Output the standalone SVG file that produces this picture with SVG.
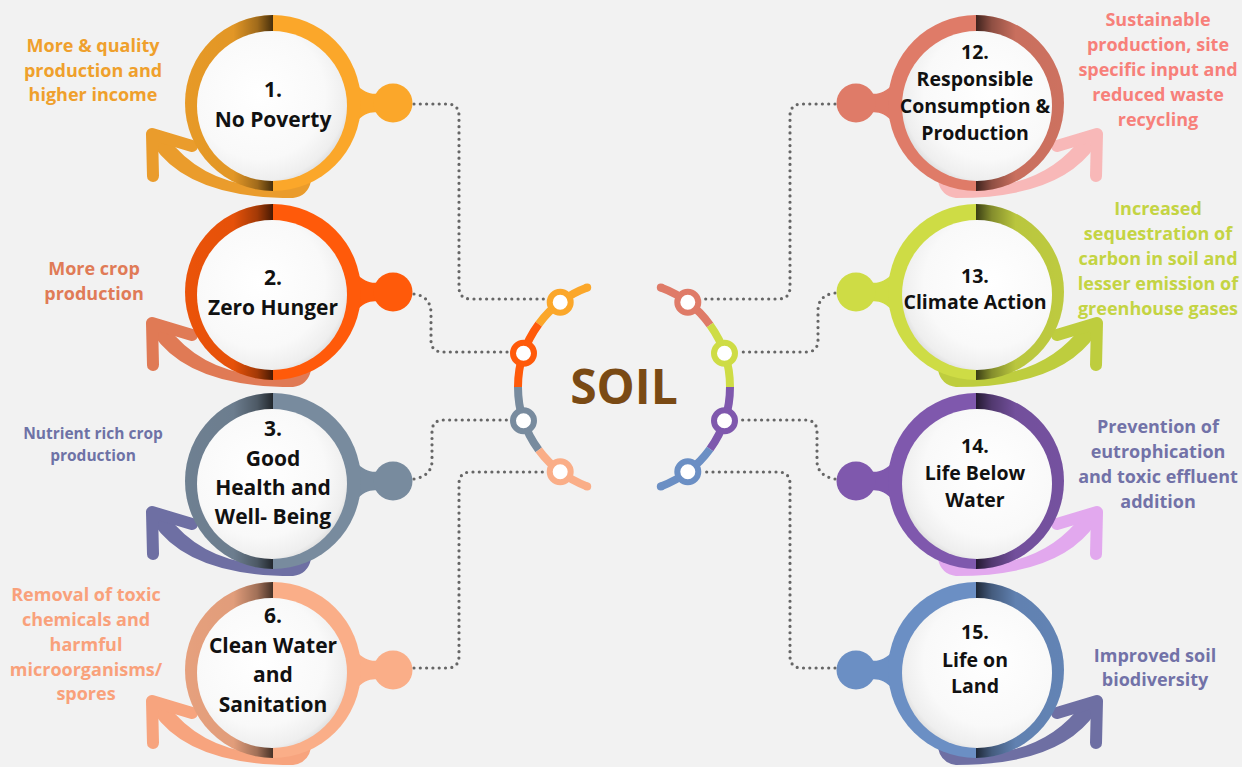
<svg xmlns="http://www.w3.org/2000/svg" xmlns:xlink="http://www.w3.org/1999/xlink" width="1242" height="767" viewBox="0 0 1242 767">
  <style>
    .nt { font-family: "Open Sans", "Liberation Sans", sans-serif; font-weight: 700; font-size: 21px; fill: #111111; text-anchor: middle; }
    .nr { font-size: 19.5px; }
    .lb { font-family: "Open Sans", "Liberation Sans", sans-serif; font-weight: 700; font-size: 18px; text-anchor: middle; }
    .sm { font-size: 15.5px; }
    .dots { fill: none; stroke: #666666; stroke-width: 3.2; stroke-dasharray: 0 6.3; stroke-linecap: round; }
    .seg { fill: none; stroke-width: 8; }
    .hub { fill: #ffffff; stroke-width: 6; }
  </style>
  <defs>
    <!-- darkening toward the split line of the ring -->
    <linearGradient id="shade" x1="0" y1="0" x2="1" y2="0">
      <stop offset="0" stop-color="#000" stop-opacity="0.08"/>
      <stop offset="0.55" stop-color="#000" stop-opacity="0.10"/>
      <stop offset="0.82" stop-color="#000" stop-opacity="0.36"/>
      <stop offset="1" stop-color="#000" stop-opacity="0.72"/>
    </linearGradient>
    <radialGradient id="disc" cx="0.42" cy="0.42" r="0.62">
      <stop offset="0" stop-color="#ffffff"/>
      <stop offset="0.7" stop-color="#f9f9f9"/>
      <stop offset="0.93" stop-color="#eeeeee"/>
      <stop offset="1" stop-color="#dedede"/>
    </radialGradient>
    <!-- ring with white disc, drawn around the origin -->
    <g id="ring">
      <circle r="88" fill="currentColor"/>
      <path d="M0,-88 A88,88 0 0 0 0,88 Z" fill="url(#shade)"/>
      <circle cx="-1" cy="3" r="75" fill="url(#disc)"/>
    </g>
    <!-- knob on the connector side -->
    <g id="knob" fill="currentColor">
      <path d="M82,-20 C92,-9 100,-8 108,-10 L108,10 C100,8 92,9 82,20 Z"/>
      <circle cx="120" cy="0" r="19.5"/>
    </g>
    <!-- curved outward arrow under the ring -->
    <g id="arrow">
      <path d="M-120,42 Q-85,95 20,95 Q35,93 38,78 L15,84 Q-66,88 -106,34 Z" fill="currentColor"/>
      <polyline points="-81,43 -121,31 -120,73" fill="none" stroke="currentColor" stroke-width="12" stroke-linecap="round" stroke-linejoin="round"/>
    </g>
  </defs>

  <rect width="1242" height="767" fill="#F2F2F2"/>

  <!-- dotted connectors -->
  <g id="connectors">
    <path class="dots" d="M414,104 H447 Q459,104 459,116 V287 Q459,299 471,299 H546"/>
    <path class="dots" d="M414,294 Q430,296 431,312 V340 Q431,352 443,352 H508"/>
    <path class="dots" d="M414,479 Q431,476 432,462 V432 Q432,420 444,420 H508"/>
    <path class="dots" d="M414,668 H447 Q459,668 459,656 V484 Q459,472 471,472 H546"/>
    <path class="dots" d="M835,104 H802 Q790,104 790,116 V287 Q790,299 778,299 H703"/>
    <path class="dots" d="M835,293 Q818,295 818,311 V340 Q818,352 806,352 H741"/>
    <path class="dots" d="M835,479 Q818,476 817,462 V432 Q817,420 805,420 H741"/>
    <path class="dots" d="M835,668 H802 Q790,668 790,656 V484 Q790,472 778,472 H703"/>
  </g>

  <!-- central hub -->
  <g id="hub">
    <path class="seg" stroke="#FBA72A" d="M587.2,287.6 A106,106 0 0 0 538.7,324.1"/>
    <path class="seg" stroke="#FF5A0A" d="M538.7,324.1 A106,106 0 0 0 518,387"/>
    <path class="seg" stroke="#788B9E" d="M518,387 A106,106 0 0 0 538.7,449.9"/>
    <path class="seg" stroke="#FAAE88" d="M538.7,449.9 A106,106 0 0 0 587.2,486.4"/>
    <circle cx="587.2" cy="287.6" r="4" fill="#FBA72A"/>
    <circle cx="587.2" cy="486.4" r="4" fill="#FAAE88"/>
    <path class="seg" stroke="#DF7B68" d="M660.8,287.6 A106,106 0 0 1 710,325"/>
    <path class="seg" stroke="#CEDC45" d="M710,325 A106,106 0 0 1 730,387"/>
    <path class="seg" stroke="#7F58AD" d="M730,387 A106,106 0 0 1 710,449"/>
    <path class="seg" stroke="#6B8FC4" d="M710,449 A106,106 0 0 1 660.8,486.4"/>
    <circle cx="660.8" cy="287.6" r="4" fill="#DF7B68"/>
    <circle cx="660.8" cy="486.4" r="4" fill="#6B8FC4"/>
    <circle class="hub" cx="560.2" cy="302.3" r="10.5" stroke="#FBA72A"/>
    <circle class="hub" cx="523.5" cy="353.2" r="10.5" stroke="#FF5A0A"/>
    <circle class="hub" cx="523.5" cy="420.8" r="10.5" stroke="#788B9E"/>
    <circle class="hub" cx="560.2" cy="471.7" r="10.5" stroke="#FAAE88"/>
    <circle class="hub" cx="687.8" cy="302.3" r="10.5" stroke="#DF7B68"/>
    <circle class="hub" cx="724.5" cy="353.2" r="10.5" stroke="#CEDC45"/>
    <circle class="hub" cx="724.5" cy="420.8" r="10.5" stroke="#7F58AD"/>
    <circle class="hub" cx="687.8" cy="471.7" r="10.5" stroke="#6B8FC4"/>
    <text x="624" y="404" font-family="Open Sans, Liberation Sans, sans-serif" font-weight="700" font-size="48" fill="#7A4A14" text-anchor="middle">SOIL</text>
  </g>

  <!-- left side goals -->
  <g id="node-1">
    <use href="#arrow" transform="translate(273,103)" color="#EA9C2C"/>
    <use href="#knob" transform="translate(273,103)" color="#FBA72A"/>
    <use href="#ring" transform="translate(273,103)" color="#FBA72A"/>
    <text class="nt" x="273" y="97">1.</text>
    <text class="nt" x="273" y="127">No Poverty</text>
    <text class="lb" fill="#EFA02C"><tspan x="93" y="52">More &amp; quality</tspan><tspan x="93" y="77">production and</tspan><tspan x="93" y="101">higher income</tspan></text>
  </g>
  <g id="node-2">
    <use href="#arrow" transform="translate(273,292)" color="#E07A55"/>
    <use href="#knob" transform="translate(273,292)" color="#FF5A0A"/>
    <use href="#ring" transform="translate(273,292)" color="#FF5A0A"/>
    <text class="nt" x="273" y="285">2.</text>
    <text class="nt" x="273" y="315">Zero Hunger</text>
    <text class="lb" fill="#E07B57"><tspan x="94" y="275">More crop</tspan><tspan x="94" y="300">production</tspan></text>
  </g>
  <g id="node-3">
    <use href="#arrow" transform="translate(273,481)" color="#6E6FA3"/>
    <use href="#knob" transform="translate(273,481)" color="#788B9E"/>
    <use href="#ring" transform="translate(273,481)" color="#788B9E"/>
    <text class="nt" x="273" y="436">3.</text>
    <text class="nt" x="273" y="466">Good</text>
    <text class="nt" x="273" y="495">Health and</text>
    <text class="nt" x="273" y="524">Well- Being</text>
    <text class="lb sm" fill="#6E72A6"><tspan x="93" y="439">Nutrient rich crop</tspan><tspan x="93" y="461">production</tspan></text>
  </g>
  <g id="node-6">
    <use href="#arrow" transform="translate(273,670)" color="#F7A47E"/>
    <use href="#knob" transform="translate(273,670)" color="#FAAE88"/>
    <use href="#ring" transform="translate(273,670)" color="#FAAE88"/>
    <text class="nt" x="273" y="623">6.</text>
    <text class="nt" x="273" y="653">Clean Water</text>
    <text class="nt" x="273" y="682">and</text>
    <text class="nt" x="273" y="712">Sanitation</text>
    <text class="lb" fill="#F9A17B"><tspan x="86" y="601">Removal of toxic</tspan><tspan x="86" y="626">chemicals and</tspan><tspan x="86" y="651">harmful</tspan><tspan x="86" y="676">microorganisms/</tspan><tspan x="86" y="700">spores</tspan></text>
  </g>

  <!-- right side goals -->
  <g id="node-12">
    <use href="#arrow" transform="translate(976,103) scale(-1,1)" color="#F8B8B8"/>
    <use href="#knob" transform="translate(976,103) scale(-1,1)" color="#DF7B68"/>
    <use href="#ring" transform="translate(976,103) scale(-1,1)" color="#DF7B68"/>
    <text class="nt nr" x="975" y="59">12.</text>
    <text class="nt nr" x="975" y="86">Responsible</text>
    <text class="nt nr" x="975" y="113">Consumption &amp;</text>
    <text class="nt nr" x="975" y="140">Production</text>
    <text class="lb" fill="#F7807A"><tspan x="1158" y="26">Sustainable</tspan><tspan x="1158" y="51">production, site</tspan><tspan x="1158" y="76">specific input and</tspan><tspan x="1158" y="101">reduced waste</tspan><tspan x="1158" y="126">recycling</tspan></text>
  </g>
  <g id="node-13">
    <use href="#arrow" transform="translate(976,292) scale(-1,1)" color="#BECD3E"/>
    <use href="#knob" transform="translate(976,292) scale(-1,1)" color="#CEDC45"/>
    <use href="#ring" transform="translate(976,292) scale(-1,1)" color="#CEDC45"/>
    <text class="nt nr" x="975" y="283">13.</text>
    <text class="nt nr" x="975" y="309">Climate Action</text>
    <text class="lb" fill="#C4D443"><tspan x="1158" y="215">Increased</tspan><tspan x="1158" y="240">sequestration of</tspan><tspan x="1158" y="265">carbon in soil and</tspan><tspan x="1158" y="290">lesser emission of</tspan><tspan x="1158" y="315">greenhouse gases</tspan></text>
  </g>
  <g id="node-14">
    <use href="#arrow" transform="translate(976,481) scale(-1,1)" color="#E2A8EE"/>
    <use href="#knob" transform="translate(976,481) scale(-1,1)" color="#7F58AD"/>
    <use href="#ring" transform="translate(976,481) scale(-1,1)" color="#7F58AD"/>
    <text class="nt nr" x="975" y="453">14.</text>
    <text class="nt nr" x="975" y="480">Life Below</text>
    <text class="nt nr" x="975" y="507">Water</text>
    <text class="lb" fill="#7272A8"><tspan x="1158" y="433">Prevention of</tspan><tspan x="1158" y="458">eutrophication</tspan><tspan x="1158" y="483">and toxic effluent</tspan><tspan x="1158" y="508">addition</tspan></text>
  </g>
  <g id="node-15">
    <use href="#arrow" transform="translate(976,670) scale(-1,1)" color="#6E6FA3"/>
    <use href="#knob" transform="translate(976,670) scale(-1,1)" color="#6B8FC4"/>
    <use href="#ring" transform="translate(976,670) scale(-1,1)" color="#6B8FC4"/>
    <text class="nt nr" x="975" y="639">15.</text>
    <text class="nt nr" x="975" y="667">Life on</text>
    <text class="nt nr" x="975" y="693">Land</text>
    <text class="lb" fill="#7272A8"><tspan x="1155" y="662">Improved soil</tspan><tspan x="1155" y="686">biodiversity</tspan></text>
  </g>
</svg>
